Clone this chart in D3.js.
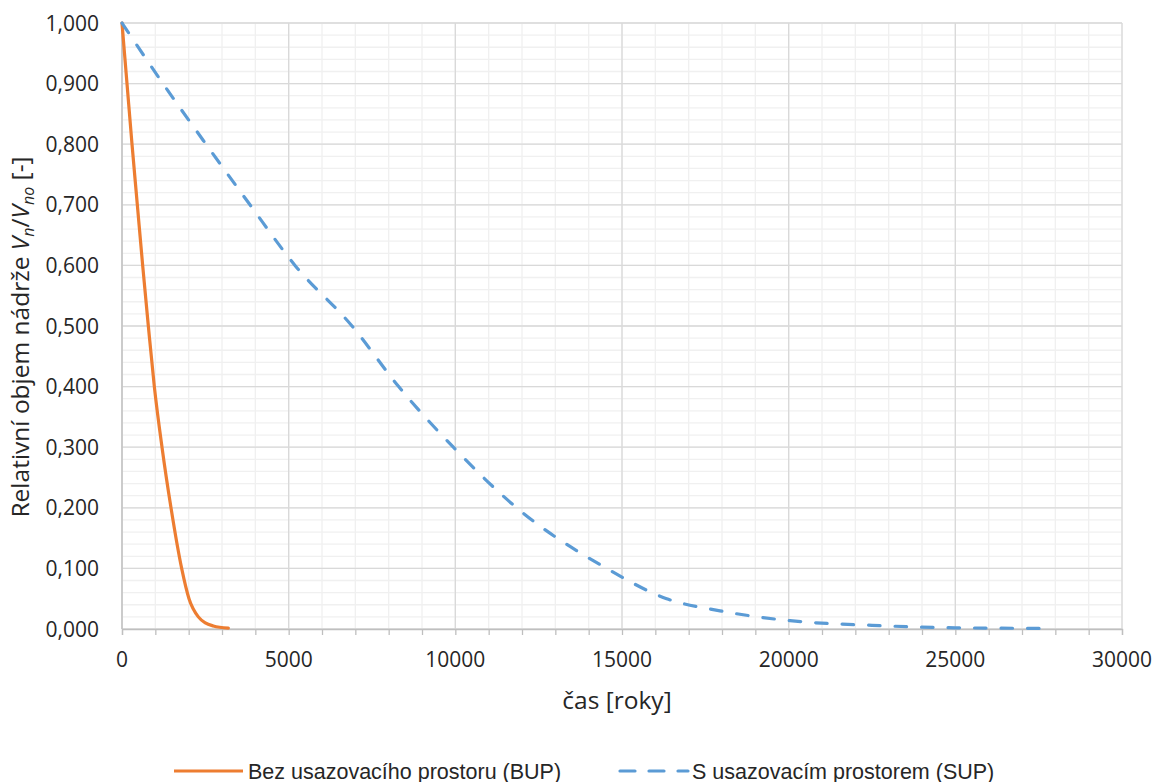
<!DOCTYPE html>
<html><head><meta charset="utf-8">
<script src="https://cdn.jsdelivr.net/npm/d3@7"></script>
<style>
body{margin:0;background:#fff;}
text{fill:#262626;}
</style></head>
<body><svg id="c" width="1161" height="782"></svg>
<script>
// Data
const bupTime  = [0, 150, 300, 460, 620, 790, 970, 1200, 1470, 1790, 2010, 2290, 2500, 2740, 3190];
const bupValue = [1.0, 0.9, 0.8, 0.7, 0.6, 0.5, 0.4, 0.3, 0.2, 0.1, 0.05, 0.02, 0.01, 0.005, 0.0015];
const supTime  = [0, 1230, 2520, 3840, 5190, 6900, 8300, 9940, 11840, 14540, 16340, 17940, 20040, 22500, 25000, 27700];
const supValue = [1.0, 0.9, 0.8, 0.7, 0.6, 0.5, 0.4, 0.3, 0.2, 0.1, 0.05, 0.03, 0.0137, 0.006, 0.002, 0.001];
const xTicks = [0, 5000, 10000, 15000, 20000, 25000, 30000];
const yTicks = [0, 0.1, 0.2, 0.3, 0.4, 0.5, 0.6, 0.7, 0.8, 0.9, 1.0];
const seriesNames = ["Bez usazovacího prostoru (BUP)", "S usazovacím prostorem (SUP)"];

const svg = d3.select("#c");
const x = d3.scaleLinear().domain([0, 30000]).range([122, 1122]);
const y = d3.scaleLinear().domain([0, 1]).range([629, 23]);

// minor grid
const xMinor = d3.range(0, 30001, 1000);
const yMinor = d3.range(0, 51).map(i => i * 0.02);
const g = svg.append("g");
g.selectAll(".vm").data(xMinor).join("line")
  .attr("x1", d => x(d)).attr("x2", d => x(d)).attr("y1", y(0)).attr("y2", y(1))
  .attr("stroke", "#f0f0f0").attr("stroke-width", 1.3);
g.selectAll(".hm").data(yMinor).join("line")
  .attr("x1", x(0)).attr("x2", x(30000)).attr("y1", d => y(d)).attr("y2", d => y(d))
  .attr("stroke", "#f0f0f0").attr("stroke-width", 1.3);
// major grid
g.selectAll(".vM").data(xTicks).join("line")
  .attr("x1", d => x(d)).attr("x2", d => x(d)).attr("y1", y(0)).attr("y2", y(1))
  .attr("stroke", "#d9d9d9").attr("stroke-width", 1.3);
g.selectAll(".hM").data(yTicks).join("line")
  .attr("x1", x(0)).attr("x2", x(30000)).attr("y1", d => y(d)).attr("y2", d => y(d))
  .attr("stroke", "#d9d9d9").attr("stroke-width", 1.3);

// x axis line with minor ticks
const xAxis = d3.axisBottom(x).tickValues(xMinor).tickSize(6).tickFormat("");
const xa = svg.append("g").attr("transform", `translate(0,${y(0)})`).call(xAxis);
xa.select(".domain").attr("stroke", "#bfbfbf").attr("stroke-width", 1.3);
xa.selectAll(".tick line").attr("stroke", "#bfbfbf").attr("stroke-width", 1.3);
// y axis line
svg.append("line").attr("x1", x(0)).attr("x2", x(0)).attr("y1", y(0)).attr("y2", y(1))
  .attr("stroke", "#bfbfbf").attr("stroke-width", 1.3);

const font = "'Open Sans', 'Noto Sans', sans-serif";
svg.selectAll(".xl").data(xTicks).join("text")
  .attr("x", d => x(d)).attr("y", 667).attr("text-anchor", "middle")
  .style("font-family", font).style("font-size", "21px").text(d => d);
const fmt = d => d3.format(".3f")(d).replace(".", ",");
svg.selectAll(".yl").data(yTicks).join("text")
  .attr("x", 99).attr("y", d => y(d) + 7.5).attr("text-anchor", "end")
  .style("font-family", font).style("font-size", "21px").text(fmt);

// axis titles
svg.append("text").attr("x", 617).attr("y", 709).attr("text-anchor", "middle")
  .style("font-family", font).style("font-size", "24.5px").text("čas [roky]");
const yt = svg.append("text").attr("transform", "translate(29,337) rotate(-90)")
  .attr("text-anchor", "middle").style("font-family", font).style("font-size", "24.5px");
yt.append("tspan").text("Relativní objem nádrže ");
yt.append("tspan").style("font-style", "italic").text("V");
yt.append("tspan").style("font-style", "italic").style("font-size", "16px").attr("dy", 5).text("n");
yt.append("tspan").attr("dy", -5).text("/");
yt.append("tspan").style("font-style", "italic").text("V");
yt.append("tspan").style("font-style", "italic").style("font-size", "16px").attr("dy", 5).text("no");
yt.append("tspan").attr("dy", -5).text(" [-]");

// lines
const line = d3.line().curve(d3.curveMonotoneX);
const bupPts = bupTime.map((t, i) => [x(t), y(bupValue[i])]);
const supPts = supTime.map((t, i) => [x(t), y(supValue[i])]);
svg.append("path").attr("d", line(bupPts)).attr("fill", "none")
  .attr("stroke", "#ED7D31").attr("stroke-width", 3.2).attr("stroke-linecap", "round");
svg.append("path").attr("d", line(supPts)).attr("fill", "none")
  .attr("stroke", "#5B9BD5").attr("stroke-width", 3.2).attr("stroke-linecap", "round")
  .attr("stroke-dasharray", "11.5,15");

// legend
const lf = "'Liberation Sans Narrow', 'Arial Narrow', sans-serif";
svg.append("line").attr("x1", 174).attr("x2", 243).attr("y1", 771).attr("y2", 771)
  .attr("stroke", "#ED7D31").attr("stroke-width", 3.2);
svg.append("text").attr("x", 248).attr("y", 778.5).style("font-family", lf).style("font-size", "21.5px").text(seriesNames[0]);
svg.append("line").attr("x1", 620).attr("x2", 688).attr("y1", 771).attr("y2", 771)
  .attr("stroke", "#5B9BD5").attr("stroke-width", 3.2).attr("stroke-linecap", "round")
  .attr("stroke-dasharray", "15,14");
svg.append("text").attr("x", 692).attr("y", 778.5).style("font-family", lf).style("font-size", "21.5px").text(seriesNames[1]);
</script></body></html>
